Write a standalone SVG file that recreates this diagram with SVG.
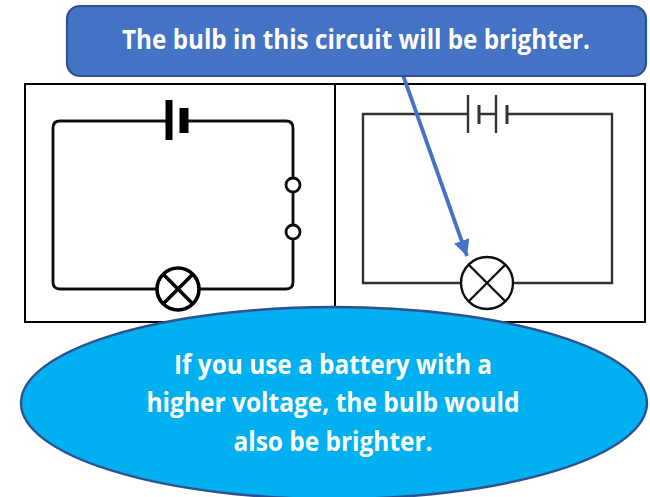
<svg xmlns="http://www.w3.org/2000/svg" width="650" height="497" viewBox="0 0 650 497">
<defs>
<style>
.frame{fill:none;stroke:#000;stroke-width:2}
.w1{fill:none;stroke:#111;stroke-width:2.8}
.w2{fill:none;stroke:#333;stroke-width:2.4}
.t{font-family:"Open Sans","Liberation Sans",sans-serif;font-weight:700;font-size:26px;fill:#fff;text-anchor:middle}
</style>
<filter id="soft" x="-5%" y="-5%" width="110%" height="110%"><feGaussianBlur stdDeviation="0.55"/></filter>
<marker id="head" markerUnits="userSpaceOnUse" markerWidth="18" markerHeight="18" refX="16" refY="9" orient="auto"><path d="M0 1L16 9L0 17Z" fill="#4472C4"/></marker>
</defs>
<rect width="650" height="497" fill="#fff"/>
<g id="frames">
<rect class="frame" x="25" y="84" width="620" height="238"/>
<line class="frame" x1="335" y1="84" x2="335" y2="322"/>
</g>
<g id="circuit-left" filter="url(#soft)">
<path class="w1" d="M166 121H60Q53 121 53 128V282Q53 289 60 289H157M199 289H286Q293 289 293 282V239M293 225V192M293 178V128Q293 121 286 121H188"/>
<line x1="169" y1="100" x2="169" y2="140" stroke="#000" stroke-width="7"/>
<line x1="184" y1="108" x2="184" y2="133" stroke="#000" stroke-width="9"/>
<circle cx="293" cy="185" r="7" fill="#fff" stroke="#111" stroke-width="2.8"/>
<circle cx="293" cy="232" r="7" fill="#fff" stroke="#111" stroke-width="2.8"/>
<circle cx="178" cy="289" r="21" fill="#fff" stroke="#000" stroke-width="3.6"/>
<path d="M163 274L193 304M193 274L163 304" fill="none" stroke="#000" stroke-width="3.6"/>
</g>
<g id="circuit-right" filter="url(#soft)">
<path class="w2" d="M468 114H363V283H461M513 283H612V114H507M479 114H496"/>
<path class="w2" d="M468 95V133M496 95V133"/>
<path d="M479 105V124M507 105V124" fill="none" stroke="#333" stroke-width="3"/>
<circle cx="487" cy="283" r="26" fill="#fff" stroke="#111" stroke-width="2.4"/>
<path d="M469 265L505 301M505 265L469 301" fill="none" stroke="#111" stroke-width="2.4"/>
</g>
<g id="connectors">
<line x1="403" y1="75" x2="467" y2="256" stroke="#4472C4" stroke-width="3.8" marker-end="url(#head)"/>
</g>
<g id="callout-box">
<rect x="67" y="6" width="579" height="70" rx="13" fill="#4472C4" stroke="#2F528F" stroke-width="2.2"/>
<text class="t" x="356" y="49" textLength="468" lengthAdjust="spacingAndGlyphs">The bulb in this circuit will be brighter.</text>
</g>
<g id="callout-ellipse">
<ellipse cx="334" cy="403" rx="313" ry="96" fill="#00B0F0" stroke="#2F528F" stroke-width="2.4"/>
<text class="t" x="333" y="374" textLength="318" lengthAdjust="spacingAndGlyphs">If you use a battery with a</text>
<text class="t" x="333" y="412" textLength="373" lengthAdjust="spacingAndGlyphs">higher voltage, the bulb would</text>
<text class="t" x="333" y="451" textLength="199" lengthAdjust="spacingAndGlyphs">also be brighter.</text>
</g>
</svg>
